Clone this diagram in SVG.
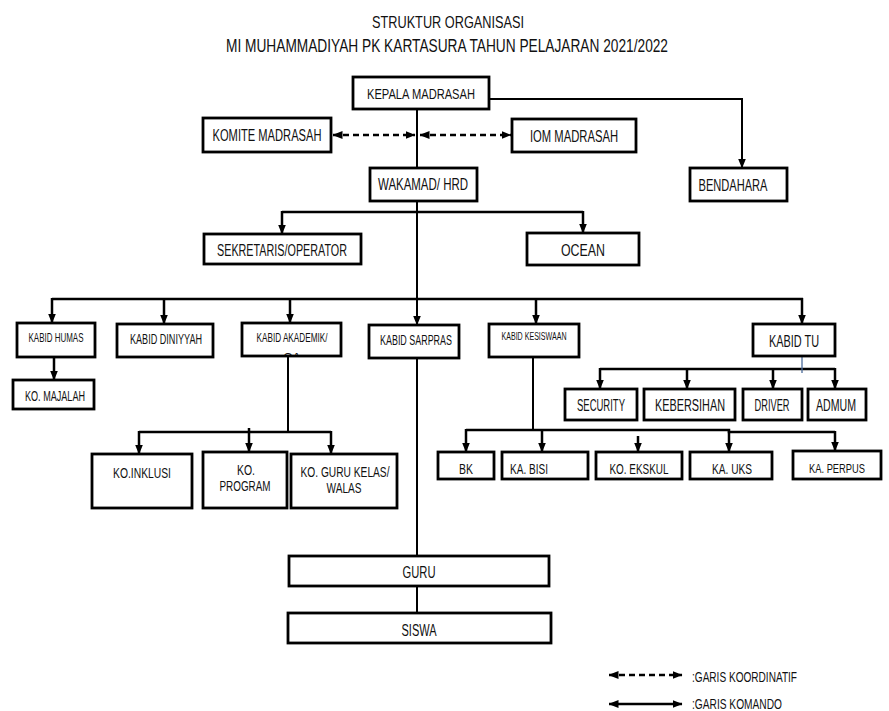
<svg xmlns="http://www.w3.org/2000/svg" width="889" height="711" viewBox="0 0 889 711">
<style>
.box{fill:#fff;stroke:#000;stroke-width:2.8}
text{font-family:"Liberation Sans",Arial,sans-serif;fill:#111;text-anchor:middle}
.l{text-anchor:start}
.s16{font-size:16px}
.s15{font-size:15px}
.s14{font-size:14px}
.s13{font-size:13px}
.s12{font-size:12.5px}
.s10{font-size:10px}
.c{fill:none;stroke:#000;stroke-width:2.5}
.thin{stroke-width:2}
.d{fill:none;stroke:#000;stroke-width:2.5;stroke-dasharray:6 4}
.ar{marker-end:url(#ah)}
.ar2{marker-start:url(#ah);marker-end:url(#ah)}
</style>
<defs>
<marker id="ah" viewBox="0 0 10 8" refX="9.5" refY="4" markerWidth="10" markerHeight="8" markerUnits="userSpaceOnUse" orient="auto-start-reverse">
<path d="M0,0 L10,4 L0,8 z" fill="#000"/>
</marker>
<clipPath id="akclip"><rect x="243" y="324" width="97" height="31"/></clipPath>
</defs>
<rect width="889" height="711" fill="#fff"/>

<g id="title">
<text x="448" y="28" font-size="17" textLength="152" lengthAdjust="spacingAndGlyphs">STRUKTUR ORGANISASI</text>
<text x="447" y="52" font-size="18" textLength="442" lengthAdjust="spacingAndGlyphs">MI MUHAMMADIYAH PK KARTASURA TAHUN PELAJARAN 2021/2022</text>
</g>

<g id="connectors">
<path class="c thin ar" d="M489,99 H742 V168"/>
<path class="c thin" d="M417,109 V168"/>
<path class="d ar2" d="M333,135 H415"/>
<path class="d ar2" d="M420,135 H511"/>
<path class="c thin ar" d="M417,201 V325"/>
<path class="c thin" d="M417,358 V556"/>
<path class="c thin" d="M417,586 V613"/>
<path class="c" d="M282,212 H583"/>
<path class="c ar" d="M282,211 V234"/>
<path class="c ar" d="M583,211 V233"/>
<path class="c" d="M52,299 H803"/>
<path class="c ar" d="M52,298 V323"/>
<path class="c ar" d="M164,298 V324"/>
<path class="c ar" d="M290,298 V323"/>
<path class="c ar" d="M536,298 V324"/>
<path class="c ar" d="M802,298 V324"/>
<path class="c ar" d="M54,357 V380"/>
<path class="c thin" d="M288,356 V432"/>
<path class="c" d="M139,432 H331"/>
<path class="c ar" d="M139,431 V454"/>
<path class="c ar" d="M249,428 V452"/>
<path class="c ar" d="M331,431 V454"/>
<path class="c thin" d="M533,357 V430"/>
<path class="c" d="M466,430 H729 V432 H835"/>
<path class="c ar" d="M466,429 V452"/>
<path class="c ar" d="M542,429 V452"/>
<path class="c ar" d="M729,431 V452"/>
<path class="c ar" d="M835,431 V451"/>
<path class="c ar" d="M638,436 V452"/>
<path class="c" d="M600,369 H835"/>
<path class="c ar" d="M600,368 V389"/>
<path class="c ar" d="M687,368 V389"/>
<path class="c ar" d="M773,368 V389"/>
<path class="c ar" d="M835,368 V389"/>
<path d="M802,356 V373" fill="none" stroke="#4a6a9a" stroke-width="1.3"/>
</g>

<g id="kepala"><rect class="box" x="353" y="77" width="136" height="32"/><text class="s15" x="421" y="99" textLength="108" lengthAdjust="spacingAndGlyphs">KEPALA MADRASAH</text></g>
<g id="komite"><rect class="box" x="203" y="118" width="128" height="34"/><text class="s16" x="267" y="141" textLength="109" lengthAdjust="spacingAndGlyphs">KOMITE MADRASAH</text></g>
<g id="iom"><rect class="box" x="512" y="119" width="124" height="33"/><text class="s16" x="574" y="142" textLength="88" lengthAdjust="spacingAndGlyphs">IOM MADRASAH</text></g>
<g id="bendahara"><rect class="box" x="690" y="168" width="97" height="33"/><text class="s16" x="733" y="191" textLength="69" lengthAdjust="spacingAndGlyphs">BENDAHARA</text></g>
<g id="wakamad"><rect class="box" x="370" y="168" width="107" height="33"/><text class="s16" x="423" y="190" textLength="90" lengthAdjust="spacingAndGlyphs">WAKAMAD/ HRD</text></g>
<g id="sekretaris"><rect class="box" x="204" y="234" width="157" height="30"/><text class="s16" x="282" y="256" textLength="130" lengthAdjust="spacingAndGlyphs">SEKRETARIS/OPERATOR</text></g>
<g id="ocean"><rect class="box" x="527" y="233" width="112" height="32"/><text class="s16" x="583" y="256" textLength="44" lengthAdjust="spacingAndGlyphs">OCEAN</text></g>

<g id="kabid-humas"><rect class="box" x="17" y="323" width="78" height="34"/><text class="s12" x="56" y="342" textLength="55" lengthAdjust="spacingAndGlyphs">KABID HUMAS</text></g>
<g id="kabid-diniyyah"><rect class="box" x="117" y="324" width="96" height="33"/><text class="s14" x="166" y="344" textLength="72" lengthAdjust="spacingAndGlyphs">KABID DINIYYAH</text></g>
<g id="kabid-akademik"><rect class="box" x="242" y="323" width="99" height="33"/><text class="s13" x="292" y="342" textLength="71" lengthAdjust="spacingAndGlyphs">KABID AKADEMIK/</text><text class="s13" x="292" y="362" clip-path="url(#akclip)">CA</text></g>
<g id="kabid-sarpras"><rect class="box" x="369" y="325" width="90" height="33"/><text class="s14" x="416" y="345" textLength="72" lengthAdjust="spacingAndGlyphs">KABID SARPRAS</text></g>
<g id="kabid-kesiswaan"><rect class="box" x="489" y="324" width="90" height="33"/><text class="s10" x="534" y="340" textLength="65" lengthAdjust="spacingAndGlyphs">KABID KESISWAAN</text></g>
<g id="kabid-tu"><rect class="box" x="753" y="324" width="82" height="32"/><text class="s16" x="794" y="347" textLength="50" lengthAdjust="spacingAndGlyphs">KABID TU</text></g>
<g id="ko-majalah"><rect class="box" x="13" y="380" width="81" height="29"/><text class="s15" x="55" y="401" textLength="60" lengthAdjust="spacingAndGlyphs">KO. MAJALAH</text></g>

<g id="security"><rect class="box" x="565" y="389" width="72" height="31"/><text class="s16" x="601" y="411" textLength="48" lengthAdjust="spacingAndGlyphs">SECURITY</text></g>
<g id="kebersihan"><rect class="box" x="644" y="389" width="91" height="31"/><text class="s16" x="690" y="411" textLength="70" lengthAdjust="spacingAndGlyphs">KEBERSIHAN</text></g>
<g id="driver"><rect class="box" x="743" y="389" width="59" height="31"/><text class="s16" x="772" y="411" textLength="35" lengthAdjust="spacingAndGlyphs">DRIVER</text></g>
<g id="admum"><rect class="box" x="808" y="389" width="58" height="31"/><text class="s16" x="836" y="411" textLength="40" lengthAdjust="spacingAndGlyphs">ADMUM</text></g>

<g id="ko-inklusi"><rect class="box" x="92" y="454" width="100" height="54"/><text class="s15" x="142" y="478" textLength="58" lengthAdjust="spacingAndGlyphs">KO.INKLUSI</text></g>
<g id="ko-program"><rect class="box" x="203" y="452" width="84" height="56"/><text class="s15" x="246" y="475" textLength="18" lengthAdjust="spacingAndGlyphs">KO.</text><text class="s15" x="245" y="491" textLength="51" lengthAdjust="spacingAndGlyphs">PROGRAM</text></g>
<g id="ko-guru-kelas"><rect class="box" x="291" y="454" width="106" height="54"/><text class="s15" x="345" y="477" textLength="89" lengthAdjust="spacingAndGlyphs">KO. GURU KELAS/</text><text class="s15" x="344" y="493" textLength="35" lengthAdjust="spacingAndGlyphs">WALAS</text></g>

<g id="bk"><rect class="box" x="438" y="452" width="56" height="27"/><text class="s15" x="466" y="474" textLength="14" lengthAdjust="spacingAndGlyphs">BK</text></g>
<g id="ka-bisi"><rect class="box" x="502" y="452" width="86" height="27"/><text class="s15 l" x="510" y="474" textLength="38" lengthAdjust="spacingAndGlyphs">KA. BISI</text></g>
<g id="ko-ekskul"><rect class="box" x="596" y="452" width="86" height="27"/><text class="s15" x="639" y="474" textLength="59" lengthAdjust="spacingAndGlyphs">KO. EKSKUL</text></g>
<g id="ka-uks"><rect class="box" x="690" y="452" width="82" height="27"/><text class="s15" x="732" y="474" textLength="40" lengthAdjust="spacingAndGlyphs">KA. UKS</text></g>
<g id="ka-perpus"><rect class="box" x="793" y="451" width="88" height="28"/><text x="837" y="473" font-size="13.5" textLength="56" lengthAdjust="spacingAndGlyphs">KA. PERPUS</text></g>

<g id="guru"><rect class="box" x="289" y="556" width="260" height="30"/><text class="s16" x="419" y="578" textLength="33" lengthAdjust="spacingAndGlyphs">GURU</text></g>
<g id="siswa"><rect class="box" x="288" y="613" width="263" height="30"/><text class="s16" x="419" y="636" textLength="35" lengthAdjust="spacingAndGlyphs">SISWA</text></g>

<g id="legend">
<path class="d ar2" d="M609,675 H682"/>
<path class="c ar2" stroke-width="3" d="M609,704 H682"/>
<text class="l" x="692" y="682" font-size="14" textLength="105" lengthAdjust="spacingAndGlyphs">:GARIS KOORDINATIF</text>
<text class="l" x="692" y="709" font-size="14" textLength="90" lengthAdjust="spacingAndGlyphs">:GARIS KOMANDO</text>
</g>
</svg>
